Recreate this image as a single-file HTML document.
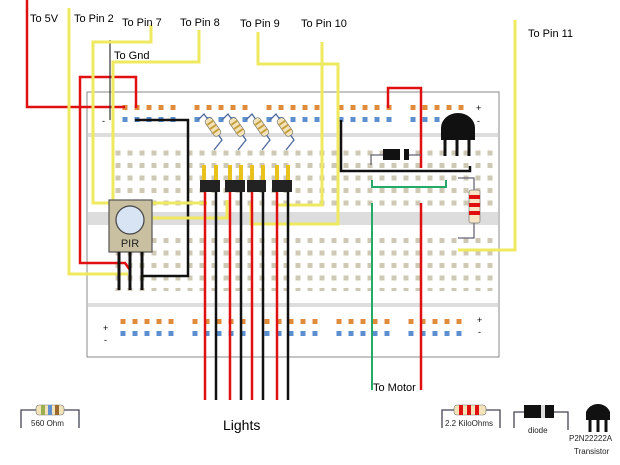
<!DOCTYPE html>
<html><head><meta charset="utf-8"><style>
html,body{margin:0;padding:0;background:#fff;}
svg{display:block;font-family:"Liberation Sans",sans-serif;}
</style></head><body>
<svg width="620" height="465" viewBox="0 0 620 465" xmlns="http://www.w3.org/2000/svg">
<defs>
<pattern id="h" x="115.5" y="150.5" width="12" height="12.5" patternUnits="userSpaceOnUse"><rect x="0" y="0" width="5" height="5" fill="#cfc8b4"/></pattern>
<pattern id="ro" x="122.5" y="105" width="12" height="20" patternUnits="userSpaceOnUse"><rect x="0" y="0" width="5" height="5" fill="#e08a3c"/></pattern>
<pattern id="rb" x="122.5" y="117" width="12" height="20" patternUnits="userSpaceOnUse"><rect x="0" y="0" width="5" height="5" fill="#5b8fd0"/></pattern>
<pattern id="ro2" x="120.5" y="319" width="12" height="20" patternUnits="userSpaceOnUse"><rect x="0" y="0" width="5" height="5" fill="#e08a3c"/></pattern>
<pattern id="rb2" x="120.5" y="331" width="12" height="20" patternUnits="userSpaceOnUse"><rect x="0" y="0" width="5" height="5" fill="#5b8fd0"/></pattern>
<g id="res"><rect x="-10" y="-4" width="20" height="8" rx="3" fill="#f3e3b8" stroke="#777" stroke-width="0.7"/><rect x="-6" y="-4" width="2" height="8" fill="#c8a040"/><rect x="-1" y="-4" width="2" height="8" fill="#c8a040"/><rect x="4" y="-4" width="2" height="8" fill="#c8a040"/></g>
</defs>
<rect x="87" y="92" width="412" height="265" fill="#fff" stroke="#888" stroke-width="1"/>
<rect x="88" y="133" width="410" height="4" fill="#ddd"/>
<rect x="88" y="212" width="410" height="13" fill="#ddd"/>
<rect x="88" y="303" width="410" height="4" fill="#ddd"/>
<rect x="115" y="150" width="380" height="57" fill="url(#h)"/>
<rect x="115" y="234" width="380" height="57" fill="url(#h)"/>
<rect x="122" y="105" width="58" height="5" fill="url(#ro)"/>
<rect x="193" y="105" width="58" height="5" fill="url(#ro)"/>
<rect x="265" y="105" width="58" height="5" fill="url(#ro)"/>
<rect x="336" y="105" width="58" height="5" fill="url(#ro)"/>
<rect x="408" y="105" width="58" height="5" fill="url(#ro)"/>
<rect x="122" y="117" width="58" height="5" fill="url(#rb)"/>
<rect x="193" y="117" width="58" height="5" fill="url(#rb)"/>
<rect x="265" y="117" width="58" height="5" fill="url(#rb)"/>
<rect x="336" y="117" width="58" height="5" fill="url(#rb)"/>
<rect x="408" y="117" width="58" height="5" fill="url(#rb)"/>
<rect x="120" y="319" width="58" height="5" fill="url(#ro2)"/>
<rect x="192" y="319" width="58" height="5" fill="url(#ro2)"/>
<rect x="264" y="319" width="58" height="5" fill="url(#ro2)"/>
<rect x="336" y="319" width="58" height="5" fill="url(#ro2)"/>
<rect x="408" y="319" width="58" height="5" fill="url(#ro2)"/>
<rect x="120" y="331" width="58" height="5" fill="url(#rb2)"/>
<rect x="192" y="331" width="58" height="5" fill="url(#rb2)"/>
<rect x="264" y="331" width="58" height="5" fill="url(#rb2)"/>
<rect x="336" y="331" width="58" height="5" fill="url(#rb2)"/>
<rect x="408" y="331" width="58" height="5" fill="url(#rb2)"/>
<g font-size="9" fill="#000">
<text x="476" y="111">+</text><text x="477" y="124">-</text>
<text x="102" y="124">-</text>
<text x="103" y="331">+</text><text x="104" y="343">-</text>
<text x="477" y="323">+</text><text x="478" y="335">-</text>
</g>
<g stroke="#4a6a9a" stroke-width="1.3" fill="none">
<path d="M198 120 L204 114 L222 140 L214 150"/>
<path d="M222 120 L228 114 L246 140 L238 150"/>
<path d="M246 120 L252 114 L270 140 L262 150"/>
<path d="M270 120 L276 114 L294 140 L286 150"/>
</g>
<use href="#res" transform="translate(213,127) rotate(55)"/>
<use href="#res" transform="translate(237,127) rotate(55)"/>
<use href="#res" transform="translate(261,127) rotate(55)"/>
<use href="#res" transform="translate(285,127) rotate(55)"/>
<g fill="none" stroke-width="2.5">
<polyline points="27,0 27,107 125,107" stroke="#e01010"/>
<polyline points="136,108 136,77 80,77 80,263 125,263 130,270" stroke="#e01010"/>
<polyline points="388,108 388,88 421,88 421,168" stroke="#e01010"/>
<polyline points="110,40 110,120" stroke="#333" stroke-width="1.2"/>
<polyline points="135,120 188,120 188,276 143,276" stroke="#111"/>
<polyline points="341,120 341,171 470,171 470,166" stroke="#111"/>
<polyline points="372,180 372,187 446,187 446,180" stroke="#22aa66" stroke-width="2"/>
<polyline points="372,203 372,390" stroke="#22aa66" stroke-width="2"/>
<polyline points="421,203 421,390" stroke="#e01010"/>
<g stroke="#efe960" stroke-width="3">
<polyline points="69,8 69,274 128,274"/>
<polyline points="151,25 151,42 93,42 93,203 207,203"/>
<polyline points="199,30 199,62 113,62 113,218 227,218 227,200"/>
<polyline points="258,32 258,64 338,64 338,224 251,224 251,203"/>
<polyline points="322,42 322,205 278,205"/>
<polyline points="515,20 515,250 458,250"/>
</g>
</g>
<g fill="#e8c21a">
<rect x="202" y="165" width="4" height="16"/><rect x="214" y="165" width="4" height="16"/>
<rect x="228" y="165" width="4" height="16"/><rect x="239" y="165" width="4" height="16"/>
<rect x="250" y="165" width="4" height="16"/><rect x="261" y="165" width="4" height="16"/>
<rect x="275" y="165" width="4" height="16"/><rect x="286" y="165" width="4" height="16"/>
</g>
<g fill="#222">
<rect x="200" y="180" width="20" height="12"/><rect x="225" y="180" width="20" height="12"/>
<rect x="247" y="180" width="19" height="12"/><rect x="272" y="180" width="20" height="12"/>
</g>
<g stroke-width="2.5">
<line x1="205" y1="192" x2="205" y2="400" stroke="#e01010"/><line x1="216" y1="192" x2="216" y2="400" stroke="#111"/>
<line x1="230" y1="192" x2="230" y2="400" stroke="#e01010"/><line x1="241" y1="192" x2="241" y2="400" stroke="#111"/>
<line x1="252" y1="192" x2="252" y2="400" stroke="#e01010"/><line x1="263" y1="192" x2="263" y2="400" stroke="#111"/>
<line x1="277" y1="192" x2="277" y2="400" stroke="#e01010"/><line x1="288" y1="192" x2="288" y2="400" stroke="#111"/>
</g>
<rect x="109" y="200" width="43" height="52" fill="#c8c0a0" stroke="#555" stroke-width="1.2"/>
<circle cx="130" cy="220" r="14" fill="#d8e4f4" stroke="#444" stroke-width="1.2"/>
<text x="130" y="247" font-size="11" text-anchor="middle" fill="#222">PIR</text>
<g stroke="#111" stroke-width="3">
<line x1="119" y1="252" x2="119" y2="290"/><line x1="130" y1="252" x2="130" y2="290"/><line x1="142" y1="252" x2="142" y2="290"/>
</g>
<polyline points="371,165 371,155 410,155 421,155" fill="none" stroke="#667" stroke-width="1.3"/>
<rect x="383" y="149" width="26" height="11" fill="#111"/><rect x="400" y="149" width="4" height="11" fill="#fff"/>
<path d="M441 140 L441 128 A17 15 0 0 1 475 128 L475 140 Z" fill="#111"/>
<g stroke="#111" stroke-width="3"><line x1="445" y1="140" x2="445" y2="156"/><line x1="457" y1="140" x2="457" y2="156"/><line x1="469" y1="140" x2="469" y2="156"/></g>
<polyline points="458,178 474,178 474,238 458,238" fill="none" stroke="#667" stroke-width="1.3"/>
<rect x="469" y="190" width="11" height="33" rx="2" fill="#f6e6c6" stroke="#777" stroke-width="0.7"/>
<rect x="469" y="195" width="11" height="4" fill="#e01010"/><rect x="469" y="203" width="11" height="4" fill="#e01010"/><rect x="469" y="211" width="11" height="4" fill="#e01010"/>
<g font-size="11" fill="#000">
<text x="30" y="22">To 5V</text>
<text x="74" y="22">To Pin 2</text>
<text x="122" y="26">To Pin 7</text>
<text x="180" y="26">To Pin 8</text>
<text x="240" y="27">To Pin 9</text>
<text x="301" y="27">To Pin 10</text>
<text x="528" y="37">To Pin 11</text>
<text x="114" y="59">To Gnd</text>
<text x="373" y="391">To Motor</text>
</g>
<text x="223" y="430" font-size="14" fill="#000">Lights</text>
<polyline points="21,428 21,410 79,410 79,428" fill="none" stroke="#445" stroke-width="1.3"/>
<rect x="36" y="405" width="28" height="10" rx="3" fill="#f3e3b8" stroke="#777" stroke-width="0.6"/>
<rect x="41" y="405" width="4" height="10" fill="#9ab050"/><rect x="48" y="405" width="4" height="10" fill="#6090d0"/><rect x="55" y="405" width="4" height="10" fill="#9a6a30"/>
<text x="31" y="426" font-size="8" fill="#222">560 Ohm</text>
<polyline points="442,428 442,410 500,410 500,428" fill="none" stroke="#445" stroke-width="1.3"/>
<rect x="454" y="405" width="32" height="10" rx="3" fill="#f3e3b8" stroke="#777" stroke-width="0.6"/>
<rect x="459" y="405" width="4" height="10" fill="#e01010"/><rect x="467" y="405" width="4" height="10" fill="#e01010"/><rect x="475" y="405" width="4" height="10" fill="#e01010"/>
<text x="445" y="426" font-size="8" fill="#222">2.2 KiloOhms</text>
<polyline points="514,428 514,412 568,412 568,430" fill="none" stroke="#445" stroke-width="1.3"/>
<rect x="524" y="405" width="30" height="13" fill="#111"/><rect x="541" y="405" width="4" height="13" fill="#ddd"/>
<text x="528" y="433" font-size="8" fill="#222">diode</text>
<path d="M586 420 L586 412 A13 13 0 0 1 610 412 L610 420 Z" fill="#111"/>
<g stroke="#111" stroke-width="3"><line x1="590" y1="419" x2="590" y2="432"/><line x1="598" y1="419" x2="598" y2="432"/><line x1="606" y1="419" x2="606" y2="432"/></g>
<text x="569" y="441" font-size="8" fill="#222">P2N22222A</text>
<text x="574" y="454" font-size="8" fill="#222">Transistor</text>
</svg>
</body></html>
